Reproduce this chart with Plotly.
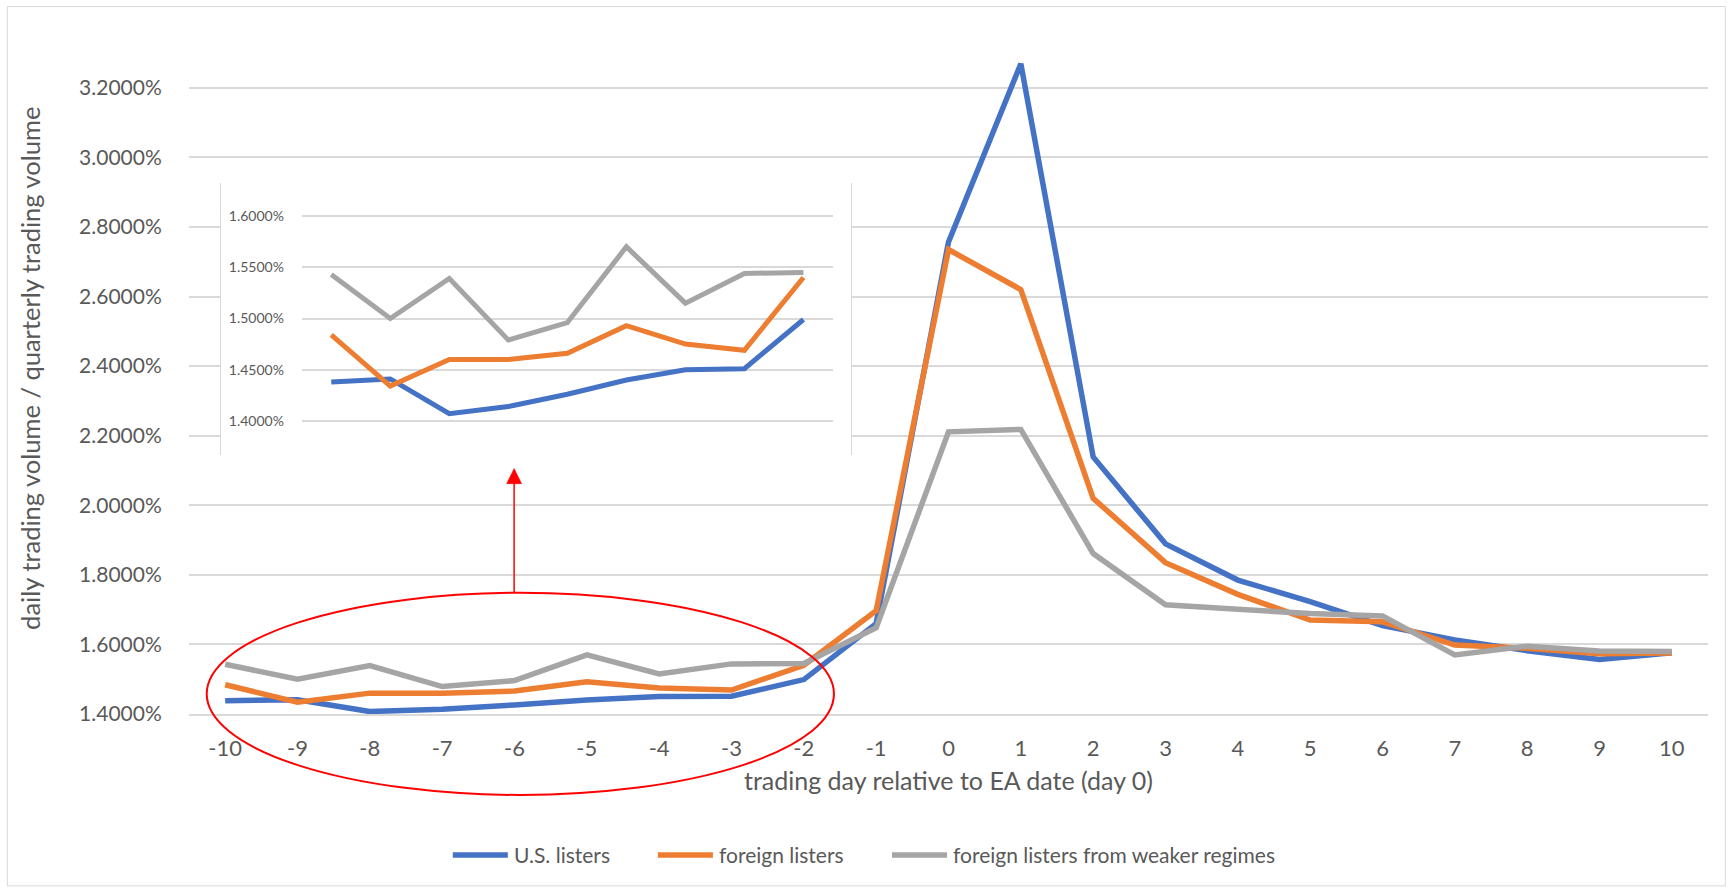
import plotly.graph_objects as go

# ---------------- data ----------------
days = [-10, -9, -8, -7, -6, -5, -4, -3, -2, -1, 0, 1, 2, 3, 4, 5, 6, 7, 8, 9, 10]
us_listers = [1.438, 1.441, 1.407, 1.414, 1.426, 1.440, 1.450, 1.451, 1.499, 1.660,
              2.757, 3.269, 2.139, 1.889, 1.785, 1.723, 1.654, 1.613, 1.582, 1.557, 1.576]
foreign_listers = [1.484, 1.434, 1.460, 1.460, 1.466, 1.493, 1.475, 1.469, 1.540, 1.697,
                   2.735, 2.620, 2.020, 1.835, 1.744, 1.670, 1.665, 1.598, 1.589, 1.573, 1.575]
weaker_regimes = [1.543, 1.500, 1.539, 1.479, 1.496, 1.570, 1.515, 1.544, 1.545, 1.648,
                  2.211, 2.218, 1.861, 1.714, 1.701, 1.689, 1.682, 1.570, 1.595, 1.581, 1.580]
series_names = ["U.S. listers", "foreign listers", "foreign listers from weaker regimes"]
series_colors = ["#4472C4", "#ED7D31", "#A5A5A5"]
main_ticks = [1.4, 1.6, 1.8, 2.0, 2.2, 2.4, 2.6, 2.8, 3.0, 3.2]
main_tick_labels = ["1.4000%", "1.6000%", "1.8000%", "2.0000%", "2.2000%",
                    "2.4000%", "2.6000%", "2.8000%", "3.0000%", "3.2000%"]
inset_ticks = [1.40, 1.45, 1.50, 1.55, 1.60]
inset_tick_labels = ["1.4000%", "1.4500%", "1.5000%", "1.5500%", "1.6000%"]
inset_days = days[:9]

# ---------------- layout geometry (pixels) ----------------
FIG_W, FIG_H = 1736, 890
L, T, R, B = 189.3, 52.5, 1707.7, 714.0
W, H = R - L, B - T


def px(x):
    return (x - L) / W


def py(y):
    return (B - y) / H


FONT = "Lato"
GREY_TXT = "#595959"
GRID = "#d9d9d9"

fig = go.Figure()

all_series = [us_listers, foreign_listers, weaker_regimes]

# main chart
for name, vals, col in zip(series_names, all_series, series_colors):
    fig.add_trace(go.Scatter(x=days, y=vals, name=name, mode="lines",
                             line=dict(color=col, width=5.5), showlegend=False,
                             xaxis="x", yaxis="y"))

# white box behind inset (covers main gridlines)
fig.add_trace(go.Scatter(x=[0, 1, 1, 0, 0], y=[0, 0, 1, 1, 0], fill="toself",
                         fillcolor="white", mode="lines", line=dict(width=0, color="white"),
                         showlegend=False, hoverinfo="skip", xaxis="x2", yaxis="y2"))

# inset chart
for name, vals, col in zip(series_names, all_series, series_colors):
    fig.add_trace(go.Scatter(x=inset_days, y=vals[:9], name=name, mode="lines",
                             line=dict(color=col, width=5), showlegend=False,
                             xaxis="x3", yaxis="y3"))

box_x = [px(221.5), px(851)]
box_y = [py(455), py(183)]

fig.update_layout(
    width=FIG_W, height=FIG_H, autosize=False,
    margin=dict(l=L, r=FIG_W - R, t=T, b=FIG_H - B, pad=0),
    paper_bgcolor="white", plot_bgcolor="white",
    font=dict(family=FONT, size=22, color=GREY_TXT),
    showlegend=False,
    xaxis=dict(domain=[0, 1], range=[-10.5, 10.5], tickmode="array", tickvals=days,
               ticktext=[str(d) for d in days], showgrid=False, zeroline=False,
               showline=True, linecolor=GRID, linewidth=1.5,
               ticks="outside", ticklen=14, tickcolor="rgba(0,0,0,0)",
               tickfont=dict(family=FONT, size=22, color=GREY_TXT),
               title=dict(text="trading day relative to EA date (day 0)",
                          font=dict(family=FONT, size=25, color=GREY_TXT), standoff=12),
               anchor="y"),
    yaxis=dict(domain=[0, 1], range=[1.4, 1.4 + H / 348.15], tickmode="array",
               tickvals=main_ticks, ticktext=main_tick_labels,
               showgrid=True, gridcolor=GRID, gridwidth=1.5, zeroline=False, showline=False,
               ticks="outside", ticklen=22, tickcolor="rgba(0,0,0,0)",
               tickfont=dict(family=FONT, size=21, color=GREY_TXT),
               anchor="x"),
    xaxis2=dict(domain=box_x, range=[0, 1], visible=False, anchor="y2", fixedrange=True),
    yaxis2=dict(domain=box_y, range=[0, 1], showgrid=False, zeroline=False,
                showticklabels=False, ticks="", showline=True, mirror=True,
                linecolor=GRID, linewidth=1, anchor="x2", fixedrange=True),
    xaxis3=dict(domain=[px(302), px(833)], range=[-10.5, -1.5], visible=False,
                anchor="y3"),
    yaxis3=dict(domain=box_y, range=[1.4 - (455 - 420.7) / 1025, 1.6 + (215.7 - 183) / 1025],
                tickmode="array", tickvals=inset_ticks, ticktext=inset_tick_labels,
                showgrid=True, gridcolor=GRID, gridwidth=1.5, zeroline=False, showline=False,
                ticks="outside", ticklen=14, tickcolor="rgba(0,0,0,0)",
                tickfont=dict(family=FONT, size=14, color=GREY_TXT), anchor="x3"),
)

# y-axis title
fig.add_annotation(text="daily trading volume / quarterly trading volume",
                   xref="paper", yref="paper", x=px(31), y=py(368), textangle=-90,
                   showarrow=False, xanchor="center", yanchor="middle",
                   font=dict(family=FONT, size=25.5, color=GREY_TXT))

# outer chart border
fig.add_shape(type="rect", xref="paper", yref="paper",
              x0=px(7.7), x1=px(1725), y0=py(886), y1=py(6),
              line=dict(color=GRID, width=1), fillcolor="rgba(0,0,0,0)", layer="below")

# legend (drawn manually to match the spacing of the original)
legend_line_x = [453, 658, 892]
for name, col, lx in zip(series_names, series_colors, legend_line_x):
    fig.add_shape(type="line", xref="paper", yref="paper",
                  x0=px(lx), x1=px(lx + 55), y0=py(855), y1=py(855),
                  line=dict(color=col, width=5.5), layer="above")
    fig.add_annotation(text=name, xref="paper", yref="paper", x=px(lx + 59), y=py(855),
                       xanchor="left", yanchor="middle", showarrow=False,
                       font=dict(family=FONT, size=21, color=GREY_TXT))

# red ellipse around pre-announcement days
fig.add_shape(type="circle", xref="paper", yref="paper",
              x0=px(207), x1=px(834), y0=py(795), y1=py(592.7),
              line=dict(color="#FF0000", width=2), fillcolor="rgba(0,0,0,0)", layer="above")

# red arrow pointing to the inset
fig.add_shape(type="line", xref="paper", yref="paper",
              x0=px(514.3), x1=px(514.3), y0=py(592.7), y1=py(482),
              line=dict(color="#FF0000", width=1.5), layer="above")
fig.add_shape(type="path", xref="paper", yref="paper",
              path=f"M {px(506.8)} {py(483.5)} L {px(521.8)} {py(483.5)} L {px(514.3)} {py(468.3)} Z",
              line=dict(color="#FF0000", width=0.5), fillcolor="#FF0000", layer="above")

fig.write_html("out.html", config={"displayModeBar": False},
               post_script="document.body.style.margin='0';document.body.style.overflow='hidden';")
